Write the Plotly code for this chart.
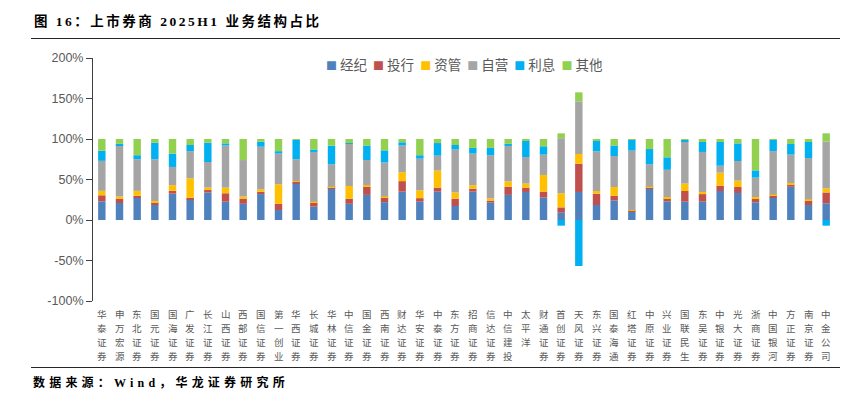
import plotly.graph_objects as go

categories = ["华泰证券", "申万宏源", "东北证券", "国元证券", "国海证券", "广发证券", "长江证券",
              "山西证券", "西部证券", "国信证券", "第一创业", "华西证券", "长城证券", "华林证券",
              "中信证券", "国金证券", "西南证券", "财达证券", "华安证券", "中泰证券", "东方证券",
              "招商证券", "信达证券", "中信建投", "太平洋", "财通证券", "首创证券", "天风证券",
              "东兴证券", "国泰海通", "红塔证券", "中原证券", "兴业证券", "国联民生", "东吴证券",
              "中银证券", "光大证券", "浙商证券", "中国银河", "方正证券", "南京证券", "中金公司"]

jingji = [23, 21, 28, 18.5, 32.5, 25.5, 34, 22.6, 20, 32, 12.3, 45, 16.5, 39, 20, 31, 22, 35, 22.6, 35, 17.3,
          35, 21.4, 31, 34.6, 27.6, 9, 34.6, 18.5, 24, 10, 39, 23, 22.6, 22.6, 35.8, 33.3, 21.8, 28, 41, 18.5, 20.6]
touhang = [7.5, 5, 2, 3.5, 3.5, 2, 3, 10.4, 6, 3, 7.7, 2, 4.9, 1.7, 6, 10, 6, 13, 4.4, 5, 9,
           3.7, 2.6, 10, 5.4, 7.4, 6.6, 34.9, 14, 6, 1.5, 1.3, 4, 13.2, 9.4, 6.6, 7.4, 4.5, 2, 2.6, 5.4, 13.4]
ziguan = [5.5, 3, 6, 1.5, 7, 24, 3, 7, 3, 3, 24, 1, 1.2, 0.3, 16, 2, 1, 11, 9.6, 21, 7.7,
          4.3, 2.7, 6.7, 5, 20.6, 17.4, 12, 3.3, 10.7, 0.5, 0.7, 1.4, 9.2, 2.6, 16, 7.9, 2.1, 1.3, 2.1, 1.6, 5]
ziying = [37, 63, 39, 51.5, 22.5, 33.5, 31.6, 52, 45, 52.5, 38, 27, 61.4, 27.7, 52.6, 31, 42, 33, 39.1, 18.4, 53,
          39, 53.3, 43.7, 32.8, 25.1, 68, 65, 49, 38.3, 73.6, 27.7, 33.6, 51.7, 49.4, 8.6, 24.2, 23.9, 53.7, 35, 51, 57.7]
lixi = [12.5, 2, 5, 20.5, 16.5, 7.6, 23.9, 2.6, 0, 6.2, 3, 23.8, 3, 23.1, 0.4, 18, 15, 4, 4.3, 15.6, 5.6,
        7, 9, 2.6, 20.2, 10.3, -7, -56.8, 13.2, 13, 14, 18.9, 15.4, 2.1, 12.3, 29.3, 21.8, 9, 13.8, 13.1, 19.8, -7]
qita = [14.5, 6, 20, 4.5, 18, 7.4, 4.5, 5.4, 26, 3.3, 15, 1.2, 13, 8.2, 5, 8, 14, 4, 20, 5, 7.4,
        11, 11, 6, 2, 9, 6, 11.1, 2, 8, 0.4, 12.4, 22.6, 1.2, 3.7, 3.7, 5.4, 38.7, 1.2, 6.2, 3.7, 10.3]

series_names = ["经纪", "投行", "资管", "自营", "利息", "其他"]
series_values = [jingji, touhang, ziguan, ziying, lixi, qita]
series_colors = ["#4F81BD", "#C0504D", "#FFC000", "#A5A5A5", "#00B0F0", "#92D050"]

y_ticks = [-100, -50, 0, 50, 100, 150, 200]
y_ticktext = [f"{v}%" for v in y_ticks]

W, H = 852, 399
PLOT_LEFT, PLOT_RIGHT, PLOT_TOP, PLOT_BOTTOM = 93, 835, 58, 301
RULE_LEFT, RULE_RIGHT, RULE_TOP, RULE_BOTTOM = 31, 840, 39, 367
Y_MIN, Y_MAX = -100, 200


def px_x(px):
    return px / W


def px_y(py):
    return 1 - py / H


zero_py = PLOT_TOP + (PLOT_BOTTOM - PLOT_TOP) * Y_MAX / (Y_MAX - Y_MIN)

fig = go.Figure()
for name, vals, col in zip(series_names, series_values, series_colors):
    fig.add_trace(go.Bar(x=categories, y=vals, name=name, marker=dict(color=col, line=dict(width=0)),
                         showlegend=False))

# empty frame subplot whose mirrored axis lines give the two horizontal page rules
fig.add_trace(go.Scatter(x=[], y=[], xaxis="x3", yaxis="y3", showlegend=False, hoverinfo="skip"))

n = len(categories)

fig.update_layout(
    width=W, height=H,
    margin=dict(l=0, r=0, t=0, b=0, autoexpand=False),
    paper_bgcolor="white", plot_bgcolor="rgba(0,0,0,0)",
    barmode="relative", bargap=0.58,
    font=dict(family="Noto Sans CJK SC, Liberation Sans, sans-serif", color="#595959"),
    xaxis=dict(domain=[px_x(PLOT_LEFT), px_x(PLOT_RIGHT)], showticklabels=False, showline=False,
               ticks="", automargin=False, showgrid=False, zeroline=False, range=[-0.5, n - 0.5]),
    xaxis2=dict(domain=[px_x(PLOT_LEFT), px_x(PLOT_RIGHT)], overlaying="x", anchor="free",
                position=px_y(zero_py), range=[-0.5, n - 0.5],
                tickmode="array", tickvals=[i - 0.5 for i in range(n + 1)], ticks="outside",
                ticklen=4, tickcolor="#404040", showticklabels=False, showline=True, automargin=False,
                linecolor="#404040", linewidth=1, showgrid=False, zeroline=False),
    yaxis=dict(domain=[px_y(PLOT_BOTTOM), px_y(PLOT_TOP)], range=[Y_MIN, Y_MAX], tickmode="array",
               tickvals=y_ticks, ticktext=y_ticktext,
               tickfont=dict(family="Liberation Sans, sans-serif", size=12.5, color="#595959"),
               showline=True, linecolor="#404040", linewidth=1, ticks="outside", ticklen=6,
               tickcolor="#404040", showgrid=False, zeroline=False, automargin=False),
    xaxis3=dict(domain=[px_x(RULE_LEFT), px_x(RULE_RIGHT)], anchor="y3", range=[0, 1],
                showline=True, mirror=True, linecolor="#262626", linewidth=1.3,
                showticklabels=False, ticks="", showgrid=False, zeroline=False, automargin=False,
                fixedrange=True),
    yaxis3=dict(domain=[px_y(RULE_BOTTOM), px_y(RULE_TOP)], anchor="x3", range=[0, 1],
                showline=False, showticklabels=False, ticks="", showgrid=False, zeroline=False,
                automargin=False, fixedrange=True),
)

# vertical category labels, one character per line
line_step = 14
for cat in categories:
    for j, ch in enumerate(cat):
        fig.add_annotation(text=ch, xref="x", yref="paper", x=cat, y=px_y(313.5 + j * line_step),
                           xanchor="center", yanchor="middle", showarrow=False, borderpad=0,
                           font=dict(size=9.5, color="#595959", family="Noto Sans CJK SC"))

# legend as text row
legend_parts = []
for name, col in zip(series_names, series_colors):
    legend_parts.append(f"<span style='color:{col};font-size:11px'>■</span> {name}")
fig.add_annotation(text="&nbsp;&nbsp;".join(legend_parts), xref="paper", yref="paper",
                   x=px_x(464), y=px_y(64), xanchor="center", yanchor="middle", showarrow=False,
                   borderpad=0, font=dict(size=13.5, color="#595959", family="Noto Sans CJK SC"))

# title and source
fig.add_annotation(text="<span style='letter-spacing:2.5px'><b>图 16：上市券商 2025H1 业务结构占比</b></span>",
                   xref="paper", yref="paper", borderpad=0,
                   x=px_x(33), y=px_y(21), xanchor="left", yanchor="middle", showarrow=False,
                   font=dict(size=13.5, color="black", family="Liberation Serif, Noto Sans CJK SC"))
fig.add_annotation(text="<span style='letter-spacing:4.2px'><b>数据来源：Wind，华龙证券研究所</b></span>",
                   xref="paper", yref="paper", borderpad=0,
                   x=px_x(32), y=px_y(382), xanchor="left", yanchor="middle", showarrow=False,
                   font=dict(size=12, color="black", family="Liberation Serif, Noto Sans CJK SC"))

fig.write_html("out.html", config={"displayModeBar": False},
               post_script="document.body.style.margin='0px';")
